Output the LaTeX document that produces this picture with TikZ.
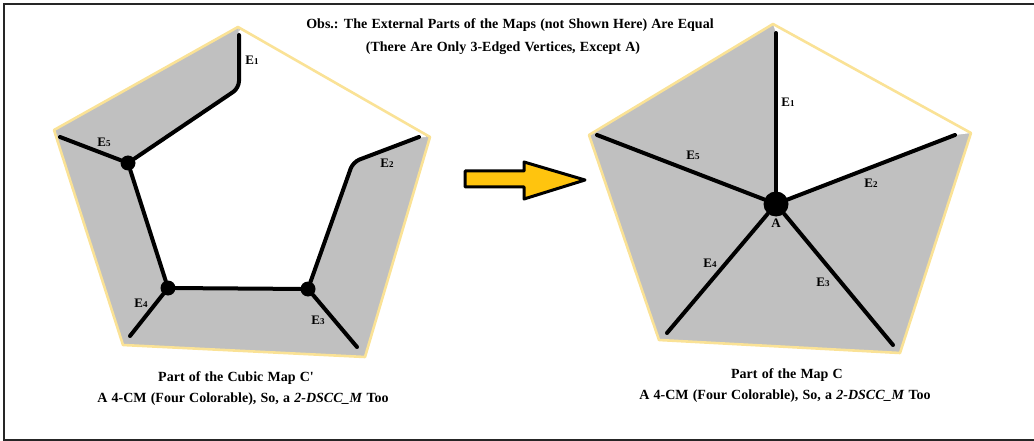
\documentclass[tikz,border=0pt]{standalone}
\usepackage{fontspec}
\setmainfont{Liberation Serif}
\usepackage{xcolor}
\usetikzlibrary{positioning,backgrounds}

\definecolor{mapgray}{RGB}{192,192,192}
\definecolor{rimyellow}{RGB}{250,226,150}
\definecolor{arrowyellow}{RGB}{255,196,14}

\newcommand{\elabel}[1]{E{\fontsize{9}{9}\selectfont #1}}
\newcommand{\widespace}{\spaceskip=0.3em\relax}

\begin{document}
\begin{tikzpicture}[
    x=1pt, y=-1pt,
    region/.style={fill=mapgray},
    hole/.style={fill=white},
    rim/.style={draw=rimyellow, line width=2.6pt, line join=round},
    edge/.style={line width=4pt, line cap=round, rounded corners=7pt},
    vertex/.style={circle, fill=black, inner sep=0pt, minimum size=15pt},
    bigvertex/.style={circle, fill=black, inner sep=0pt, minimum width=25pt, minimum height=23pt},
    elab/.style={font=\bfseries\fontsize{13}{13}\selectfont, inner sep=1pt},
    caption/.style={font=\bfseries\fontsize{14}{15}\selectfont\widespace, inner sep=0pt}
]
\useasboundingbox (0,0) rectangle (1034,441);
\draw[line width=1.2pt, black!85] (1034,4) -- (4,4) -- (4,440) -- (1034,440);

% title
\node[caption] (title1) at (510,25) {Obs.: The External Parts of the Maps (not Shown Here) Are Equal};
\node[caption] (title2) at (503,48) {(There Are Only 3-Edged Vertices, Except A)};

% left map: cubic map C'
\coordinate (L1) at (238,27);
\coordinate (L2) at (430,137);
\coordinate (L3) at (365,357);
\coordinate (L4) at (123,345);
\coordinate (L5) at (54,130);

\node[vertex] (v5) at (128,163) {};
\node[vertex] (v4) at (168,288) {};
\node[vertex] (v3) at (308,289) {};
\coordinate (e1) at (239,35);
\coordinate (e2) at (419,137);
\coordinate (e3) at (357,347);
\coordinate (e4) at (130,336);
\coordinate (e5) at (60,137);

\begin{scope}[on background layer]
\fill[region] (L1) -- (L2) -- (L3) -- (L4) -- (L5) -- cycle;
\fill[hole, rounded corners=7pt] (L1) -- (L2) -- (e2) -- (353,162) -- (v3.center) -- (v4.center) -- (v5.center) -- (239,88) -- (e1) -- cycle;
\draw[rim] (L1) -- (L2) -- (L3) -- (L4) -- (L5) -- cycle;
\end{scope}

\draw[edge] (e1) -- (239,88) -- (v5);
\draw[edge] (e2) -- (353,162) -- (v3);
\draw[edge] (v5) -- (v4);
\draw[edge] (v4) -- (v3);
\draw[edge] (v3) -- (e3);
\draw[edge] (v4) -- (e4);
\draw[edge] (v5) -- (e5);

\node[elab] (le1) at (252,60) {\elabel{1}};
\node[elab] (le2) at (387,163) {\elabel{2}};
\node[elab] (le3) at (318,320) {\elabel{3}};
\node[elab] (le4) at (141,303) {\elabel{4}};
\node[elab] (le5) at (104,142) {\elabel{5}};

\node[caption] (capL1) at (236,378) {Part of the Cubic Map C\textquotesingle};
\node[caption] (capL2) at (243,399) {A 4-CM (Four Colorable), So, a \textit{2-DSCC\_M} Too};

% arrow
\filldraw[fill=arrowyellow, draw=black, line width=3pt, line join=round]
    (465,171) -- (524,171) -- (524,162) -- (585,180) -- (524,199) -- (524,187) -- (465,187) -- cycle;

% right map: map C
\coordinate (R1) at (773,24);
\coordinate (R2) at (971,133);
\coordinate (R3) at (900,353);
\coordinate (R4) at (659,340);
\coordinate (R5) at (589,135);

\node[bigvertex] (A) at (776,204) {};
\coordinate (f1) at (776,33);
\coordinate (f2) at (955,135);
\coordinate (f3) at (893,345);
\coordinate (f4) at (667,333);
\coordinate (f5) at (597,135);

\begin{scope}[on background layer]
\fill[region] (R1) -- (R2) -- (R3) -- (R4) -- (R5) -- cycle;
\fill[hole] (R1) -- (R2) -- (f2) -- (A.center) -- (f1) -- cycle;
\draw[rim] (R1) -- (R2) -- (R3) -- (R4) -- (R5) -- cycle;
\end{scope}

\foreach \f in {f1,f2,f3,f4,f5}
    \draw[edge] (A) -- (\f);

\node[elab] (re1) at (788,102) {\elabel{1}};
\node[elab] (re2) at (871,183) {\elabel{2}};
\node[elab] (re3) at (823,282) {\elabel{3}};
\node[elab] (re4) at (710,263) {\elabel{4}};
\node[elab] (re5) at (693,155) {\elabel{5}};
\node[elab, below=1pt of A] (lA) {A};

\node[caption] (capR1) at (787,375) {Part of the Map C};
\node[caption] (capR2) at (785,396) {A 4-CM (Four Colorable), So, a \textit{2-DSCC\_M} Too};

\end{tikzpicture}
\end{document}
